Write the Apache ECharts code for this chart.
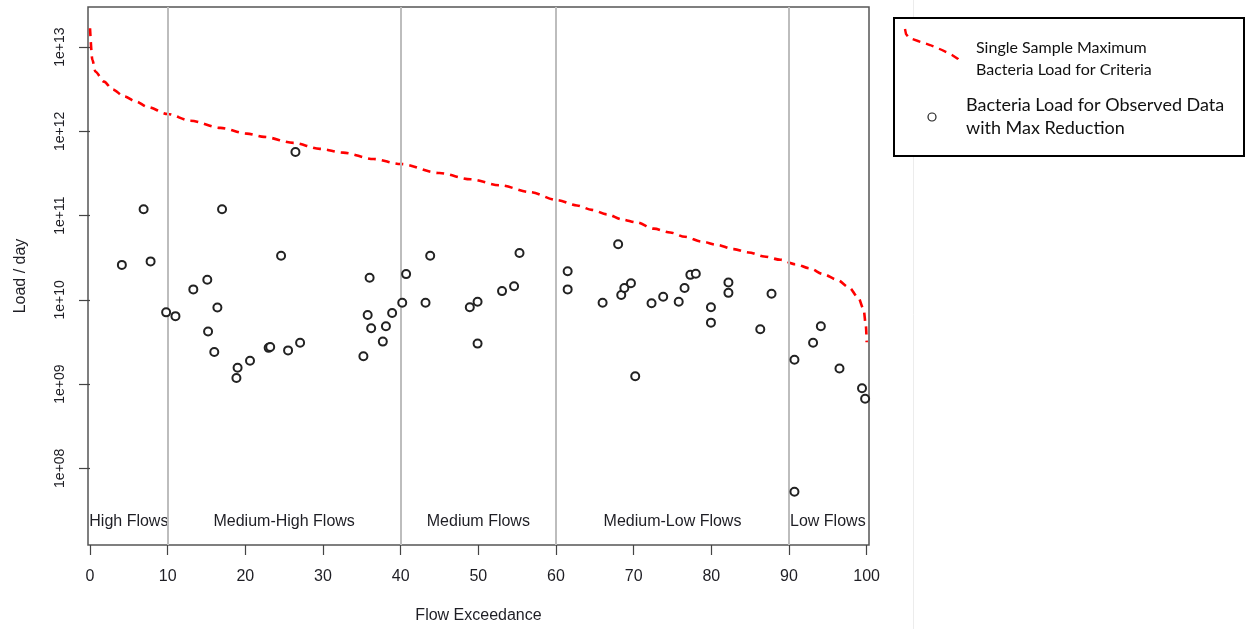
<!DOCTYPE html>
<html>
<head>
<meta charset="utf-8">
<script src="https://cdn.jsdelivr.net/npm/echarts@6/dist/echarts.min.js"></script>
<style>
html,body{margin:0;padding:0;background:#fff;}
#chart{width:1247px;height:629px;}
</style>
</head>
<body>
<div id="chart"></div>
<script>
// ---- Data ----
const curveExceedance = [0, 0.3, 0.7, 1.8, 2.9, 4.4, 5.9, 7.4, 10, 12.9, 16.8, 20.2, 22.4, 26.2, 29.6, 32.6, 36.5, 40, 45, 49, 52.8, 56.7, 60.1, 62.7, 64.6, 66.6, 68.5, 70.4, 72.6, 74.7, 76.6, 78.8, 80.7, 82.9, 84.8, 86.8, 88.9, 90.8, 92.7, 94.4, 96.2, 97.7, 98.9, 99.6, 99.9, 100];
const curveLoad = [1.68e13, 7.1e12, 5.1e12, 3.9e12, 3.16e12, 2.6e12, 2.27e12, 1.95e12, 1.61e12, 1.34e12, 1.10e12, 9.4e11, 8.6e11, 7.3e11, 6.2e11, 5.6e11, 4.7e11, 4.1e11, 3.2e11, 2.7e11, 2.29e11, 1.90e11, 1.53e11, 1.32e11, 1.17e11, 1.035e11, 9.0e10, 8.3e10, 7.0e10, 6.3e10, 5.6e10, 4.9e10, 4.5e10, 4.0e10, 3.65e10, 3.27e10, 2.99e10, 2.65e10, 2.36e10, 2.02e10, 1.73e10, 1.41e10, 1.07e10, 7.8e9, 4.9e9, 3.14e9];

const obsExceedance = [4.1, 6.9, 7.8, 9.8, 11.0, 13.3, 15.1, 15.2, 16.0, 16.4, 17.0, 18.85, 19.0, 20.6, 23.0, 23.2, 24.6, 25.5, 26.45, 27.05, 35.2, 35.75, 36.0, 36.2, 37.7, 38.1, 38.9, 40.2, 40.7, 43.2, 43.8, 48.9, 49.9, 49.9, 53.05, 54.6, 55.3, 61.5, 61.5, 66.0, 68.0, 68.4, 68.8, 69.65, 70.2, 72.3, 73.8, 75.8, 76.55, 77.3, 78.0, 79.95, 79.95, 82.2, 82.2, 86.3, 87.75, 90.7, 90.7, 93.1, 94.1, 96.5, 99.4, 99.8];
const obsLoad = [2.6e10, 1.19e11, 2.86e10, 7.1e9, 6.4e9, 1.33e10, 1.73e10, 4.2e9, 2.4e9, 8.1e9, 1.19e11, 1.18e9, 1.56e9, 1.89e9, 2.69e9, 2.75e9, 3.33e10, 2.51e9, 5.7e11, 3.09e9, 2.14e9, 6.6e9, 1.83e10, 4.6e9, 3.19e9, 4.85e9, 6.98e9, 9.25e9, 2.02e10, 9.25e9, 3.33e10, 8.15e9, 9.5e9, 3.02e9, 1.27e10, 1.45e10, 3.6e10, 2.19e10, 1.33e10, 9.25e9, 4.57e10, 1.14e10, 1.38e10, 1.57e10, 1.24e9, 9.1e9, 1.09e10, 9.5e9, 1.38e10, 1.98e10, 2.04e10, 8.15e9, 5.36e9, 1.61e10, 1.21e10, 4.48e9, 1.18e10, 1.94e9, 5.27e7, 3.09e9, 4.85e9, 1.53e9, 8.9e8, 6.7e8];

const regionBreaks = [10, 40, 60, 90];
const regionNames = ['High Flows', 'Medium-High Flows', 'Medium Flows', 'Medium-Low Flows', 'Low Flows'];
const regionCenters = [5, 25, 50, 75, 95];
const regionLabelLoad = 2.3e7;

const xTicks = [0, 10, 20, 30, 40, 50, 60, 70, 80, 90, 100];
const yTicks = [1e8, 1e9, 1e10, 1e11, 1e12, 1e13];

const legendNames = ['Single Sample Maximum\nBacteria Load for Criteria', 'Bacteria Load for Observed Data\nwith Max Reduction'];

// ---- Build options ----
const curveData = curveExceedance.map((x, i) => [x, curveLoad[i]]);
const obsData = obsExceedance.map((x, i) => [x, obsLoad[i]]);
const regionData = regionCenters.map((x, i) => ({ value: [x, regionLabelLoad], name: regionNames[i] }));

const axisColor = '#444';
const textColor = '#1e1e24';
const font = 'Liberation Sans, Arial, sans-serif';
const legendFont = 'Lato, "Open Sans", sans-serif';

const chart = echarts.init(document.getElementById('chart'), null, { renderer: 'canvas' });
chart.setOption({
  animation: false,
  backgroundColor: '#fff',
  textStyle: { fontFamily: font },
  grid: {
    left: 88, right: 378, top: 7, bottom: 82,
    show: true, borderColor: '#555', borderWidth: 1.5, backgroundColor: 'transparent'
  },
  xAxis: {
    type: 'value',
    min: -0.26, max: 100.3,
    axisLine: { show: false },
    splitLine: { show: false },
    axisTick: { show: true, customValues: xTicks, length: 10, lineStyle: { color: axisColor, width: 1.2 } },
    axisLabel: { customValues: xTicks, fontSize: 16, color: textColor, margin: 24, fontFamily: font },
    name: 'Flow Exceedance',
    nameLocation: 'middle',
    nameGap: 63,
    nameTextStyle: { fontSize: 16, color: textColor, fontFamily: font }
  },
  yAxis: {
    type: 'log', logBase: 10,
    min: 1.227e7, max: 3.0e13,
    axisLine: { show: false },
    splitLine: { show: false },
    minorTick: { show: false },
    axisTick: { show: true, customValues: yTicks, length: 11, lineStyle: { color: axisColor, width: 1.2 } },
    axisLabel: {
      customValues: yTicks, fontSize: 14, color: textColor, rotate: 90, margin: 21, fontFamily: font,
      formatter: v => '1e+' + String(Math.round(Math.log10(v))).padStart(2, '0')
    },
    name: 'Load / day',
    nameLocation: 'middle',
    nameGap: 59,
    nameTextStyle: { fontSize: 16, color: textColor, fontFamily: font }
  },
  series: [
    {
      name: 'breaks',
      type: 'scatter',
      data: [],
      silent: true,
      markLine: {
        silent: true,
        symbol: ['none', 'none'],
        label: { show: false },
        lineStyle: { color: '#bdbdbd', width: 2, type: 'solid', opacity: 1 },
        data: regionBreaks.map(v => ({ xAxis: v }))
      },
      z: 1
    },
    {
      name: 'regions',
      type: 'scatter',
      data: regionData,
      symbolSize: 0,
      silent: true,
      itemStyle: { opacity: 1 },
      label: { show: true, position: 'inside', formatter: p => p.name, fontSize: 16, color: textColor, opacity: 1, fontFamily: font },
      z: 2
    },
    {
      name: legendNames[0],
      type: 'line',
      data: curveData,
      showSymbol: false,
      smooth: 0.3,
      smoothMonotone: 'x',
      lineStyle: { color: '#ff0000', width: 2.6, type: [8, 6] },
      z: 4
    },
    {
      name: legendNames[1],
      type: 'scatter',
      data: obsData,
      symbol: 'emptyCircle',
      symbolSize: 8,
      itemStyle: { color: '#222', borderWidth: 1, opacity: 1 },
      z: 5
    }
  ],
  graphic: [
    { type: 'line', shape: { x1: 913.5, y1: 0, x2: 913.5, y2: 629 }, style: { stroke: '#ececec', lineWidth: 1 }, z: 0 },
    { type: 'rect', shape: { x: 894, y: 18, width: 350, height: 138 }, style: { fill: '#fff', stroke: '#000', lineWidth: 2 }, z: 10 },
    { type: 'polyline', shape: { points: [[905, 29], [906, 34], [909, 38], [918, 41], [930, 45], [942, 50], [952, 55], [958, 59], [961, 63]] }, style: { stroke: '#ff0000', lineWidth: 2.4, lineDash: [8, 6], fill: null }, z: 11 },
    { type: 'text', x: 976, y: 37, style: { text: legendNames[0], font: '16px ' + legendFont, fill: '#111', lineHeight: 22 }, z: 11 },
    { type: 'circle', shape: { cx: 932, cy: 117, r: 4 }, style: { fill: '#fff', stroke: '#222', lineWidth: 1.2 }, z: 11 },
    { type: 'text', x: 966, y: 94, style: { text: legendNames[1], font: '18px ' + legendFont, fill: '#111', lineHeight: 23 }, z: 11 }
  ]
});
</script>
</body>
</html>
